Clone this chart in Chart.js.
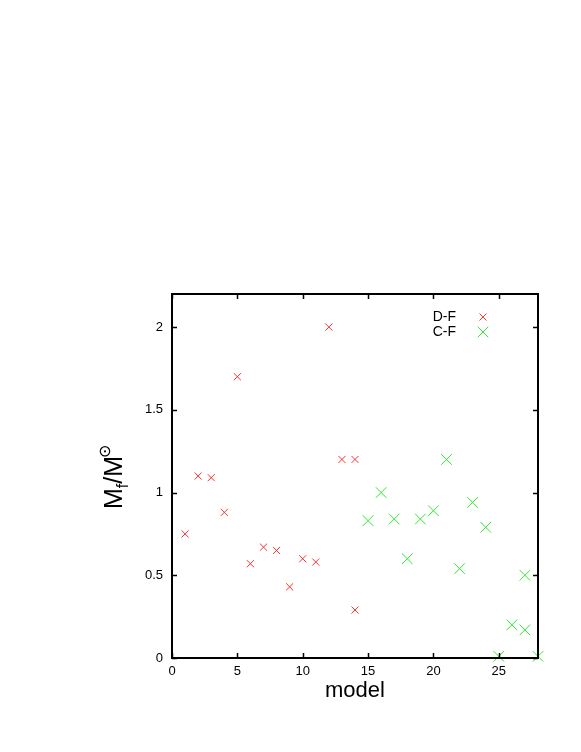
<!DOCTYPE html>
<html>
<head>
<meta charset="utf-8">
<script src="https://cdn.jsdelivr.net/npm/chart.js@4"></script>
<style>
  body { margin:0; background:#fff; }
  #wrap { width:581px; height:752px; }
</style>
</head>
<body>
<div id="wrap"><canvas id="massChart" width="581" height="752"></canvas></div>
<script>
// D-F models (red) and C-F models (green)
const dfModel = [1, 2, 3, 4, 5, 6, 7, 8, 9, 10, 11, 12, 13, 14, 14];
const dfMass  = [0.75, 1.1, 1.09, 0.88, 1.7, 0.57, 0.67, 0.65, 0.43, 0.6, 0.58, 2.0, 1.2, 1.2, 0.29];
const cfModel = [15, 16, 17, 18, 19, 20, 21, 22, 23, 24, 25, 26, 27, 27, 28];
const cfMass  = [0.83, 1.0, 0.84, 0.6, 0.84, 0.89, 1.2, 0.54, 0.94, 0.79, 0.01, 0.2, 0.17, 0.5, 0.01];
const xTicks = [0, 5, 10, 15, 20, 25];
const yTicks = [0, 0.5, 1, 1.5, 2];

const RED = '#ff3030', GREEN = '#30e830';
const toPts = (xs, ys) => xs.map((x, i) => ({x: x, y: ys[i]}));
const FONT = '"Liberation Sans", Arial, sans-serif';

// frame, inward ticks on all sides, axis titles and legend
const decor = {
  id: 'decor',
  afterDraw(chart) {
    const c = chart.ctx, a = chart.chartArea;
    const xs = chart.scales.x, ys = chart.scales.y;
    c.save();
    c.strokeStyle = '#000';
    c.lineWidth = 2;
    c.strokeRect(a.left, a.top, a.right - a.left, a.bottom - a.top);
    c.lineWidth = 1.5;
    c.beginPath();
    xTicks.forEach(v => {
      const px = Math.round(xs.getPixelForValue(v)) + 0.5;
      c.moveTo(px, a.bottom); c.lineTo(px, a.bottom - 5);
      c.moveTo(px, a.top); c.lineTo(px, a.top + 5);
    });
    yTicks.forEach(v => {
      const py = Math.round(ys.getPixelForValue(v)) + 0.5;
      c.moveTo(a.left, py); c.lineTo(a.left + 5, py);
      c.moveTo(a.right, py); c.lineTo(a.right - 5, py);
    });
    c.stroke();

    // x title
    c.fillStyle = '#000';
    c.font = '22px ' + FONT;
    c.textAlign = 'center';
    c.textBaseline = 'middle';
    c.fillText('model', (a.left + a.right) / 2, 691);

    // y title M_f/M_sun
    c.translate(122, (a.top + a.bottom) / 2);
    c.rotate(-Math.PI / 2);
    c.textAlign = 'left';
    c.textBaseline = 'alphabetic';
    const big = '25px ' + FONT, small = '16px ' + FONT;
    c.font = big;
    const w1 = c.measureText('M').width;
    c.font = small;
    const w2 = c.measureText('f').width;
    c.font = big;
    const w3 = c.measureText('/M').width;
    c.font = small;
    const w4 = c.measureText('\u2299').width;
    let x0 = -(w1 + w2 + w3 + w4) / 2;
    c.font = big; c.fillText('M', x0, 0); x0 += w1;
    c.font = small; c.fillText('f', x0, 6); x0 += w2;
    c.font = big; c.fillText('/M', x0, 0); x0 += w3 - 2;
    c.font = small; c.fillText('\u2299', x0, -12);
    c.restore();

    // legend
    c.save();
    c.font = '14px ' + FONT;
    c.fillStyle = '#000';
    c.textAlign = 'right';
    c.textBaseline = 'middle';
    const items = [['D-F', RED, 3.5, 317], ['C-F', GREEN, 5.3, 332]];
    items.forEach(([lbl, col, r, y]) => {
      c.fillText(lbl, 456, y);
      c.strokeStyle = col;
      c.lineWidth = 1;
      c.beginPath();
      c.moveTo(483 - r, y - r); c.lineTo(483 + r, y + r);
      c.moveTo(483 - r, y + r); c.lineTo(483 + r, y - r);
      c.stroke();
    });
    c.restore();
  }
};

new Chart(document.getElementById('massChart'), {
  type: 'scatter',
  data: {
    datasets: [
      { label: 'D-F', data: toPts(dfModel, dfMass), pointStyle: 'crossRot', pointRadius: 5,
        pointHoverRadius: 5, borderColor: RED, pointBorderColor: RED, pointHoverBorderColor: RED,
        backgroundColor: RED, borderWidth: 1, showLine: false, clip: false },
      { label: 'C-F', data: toPts(cfModel, cfMass), pointStyle: 'crossRot', pointRadius: 7.5,
        pointHoverRadius: 7.5, borderColor: GREEN, pointBorderColor: GREEN, pointHoverBorderColor: GREEN,
        backgroundColor: GREEN, borderWidth: 1, showLine: false, clip: false }
    ]
  },
  options: {
    responsive: false,
    animation: false,
    events: [],
    layout: { padding: { left: 0, top: 294, right: 43, bottom: 0 } },
    plugins: { legend: { display: false }, tooltip: { enabled: false } },
    scales: {
      x: {
        type: 'linear', min: 0, max: 28,
        afterFit: s => { s.height = 94; },
        afterBuildTicks: s => { s.ticks = xTicks.map(v => ({value: v})); },
        grid: { display: false, drawTicks: false },
        border: { display: false },
        ticks: { color: '#000', padding: 6, font: { family: FONT, size: 13 } }
      },
      y: {
        type: 'linear', min: 0, max: 2.2,
        afterFit: s => { s.width = 172; },
        afterBuildTicks: s => { s.ticks = yTicks.map(v => ({value: v})); },
        grid: { display: false, drawTicks: false },
        border: { display: false },
        ticks: { color: '#000', padding: 9, font: { family: FONT, size: 13 },
                 callback: v => String(v) }
      }
    }
  },
  plugins: [decor]
});
</script>
</body>
</html>
